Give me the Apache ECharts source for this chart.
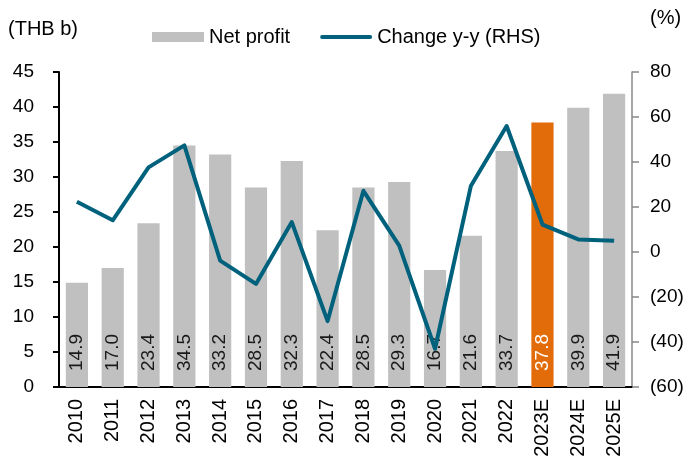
<!DOCTYPE html>
<html>
<head>
<meta charset="utf-8">
<script src="https://cdn.jsdelivr.net/npm/echarts@6/dist/echarts.min.js"></script>
<style>
  html, body { margin: 0; padding: 0; background: #fff; }
  #container { width: 688px; height: 464px; }
</style>
</head>
<body>
<div id="container"></div>
<script>
var years = ['2010', '2011', '2012', '2013', '2014', '2015', '2016', '2017',
  '2018', '2019', '2020', '2021', '2022', '2023E', '2024E', '2025E'];
var netProfit = [14.9, 17.0, 23.4, 34.5, 33.2, 28.5, 32.3, 22.4,
  28.5, 29.3, 16.7, 21.6, 33.7, 37.8, 39.9, 41.9];
var changeYY = [22.3, 14.1, 37.6, 47.4, -3.8, -14.2, 13.3, -30.7,
  27.2, 2.8, -43.0, 29.3, 56.0, 12.2, 5.6, 5.0];
var highlightYear = '2023E';

var font = 'Liberation Sans, Arial, sans-serif';

var barData = netProfit.map(function (v, i) {
  var hot = years[i] === highlightYear;
  return {
    value: v,
    itemStyle: { color: hot ? '#E36C0A' : '#C0C0C0' },
    label: { color: hot ? '#ffffff' : '#1a1a1a' }
  };
});

var chart = echarts.init(document.getElementById('container'));
chart.setOption({
  animation: false,
  textStyle: { fontFamily: font },
  grid: { left: 59, right: 56, top: 72, bottom: 77 },
  legend: {
    top: 22,
    left: 147,
    itemWidth: 52,
    itemHeight: 10,
    itemGap: 30,
    textStyle: { fontSize: 20, color: '#000', fontFamily: font },
    data: [
      { name: 'Net profit', icon: 'rect' },
      { name: 'Change y-y (RHS)', icon: 'path://M2,0 L50,0 A2,2 0 0 1 50,4 L2,4 A2,2 0 0 1 2,0 Z' }
    ]
  },
  graphic: [
    { type: 'text', left: 8, top: 19, style: { text: '(THB b)', fontSize: 20, fill: '#000', fontFamily: font } },
    { type: 'text', left: 650, top: 8, style: { text: '(%)', fontSize: 20, fill: '#000', fontFamily: font } }
  ],
  xAxis: {
    type: 'category',
    data: years,
    axisLine: { lineStyle: { color: '#000', width: 2 } },
    axisTick: { length: 6, lineStyle: { color: '#000', width: 2 } },
    axisLabel: { rotate: 90, fontSize: 20, color: '#000', margin: 12, interval: 0, fontFamily: font }
  },
  yAxis: [
    {
      type: 'value', min: 0, max: 45, interval: 5,
      splitLine: { show: false },
      axisLine: { show: true, lineStyle: { color: '#000', width: 2 } },
      axisTick: { show: true, length: 6, lineStyle: { color: '#000', width: 2 } },
      axisLabel: { fontSize: 19, color: '#000', margin: 25, fontFamily: font }
    },
    {
      type: 'value', min: -60, max: 80, interval: 20,
      splitLine: { show: false },
      axisLine: { show: true, lineStyle: { color: '#888', width: 1.5 } },
      axisTick: { show: true, length: 7, lineStyle: { color: '#888', width: 1.5 } },
      axisLabel: {
        fontSize: 19, color: '#000', margin: 18, fontFamily: font,
        formatter: function (v) { return v < 0 ? '(' + Math.abs(v) + ')' : String(v); }
      }
    }
  ],
  series: [
    {
      name: 'Net profit',
      type: 'bar',
      barWidth: '62%',
      itemStyle: { color: '#C0C0C0' },
      data: barData,
      label: {
        show: true,
        position: 'insideBottom',
        rotate: 90,
        align: 'left',
        verticalAlign: 'middle',
        distance: 16,
        fontSize: 19,
        fontFamily: font,
        formatter: function (p) { return p.value.toFixed(1); }
      },
      z: 2
    },
    {
      name: 'Change y-y (RHS)',
      type: 'line',
      yAxisIndex: 1,
      data: changeYY,
      symbol: 'none',
      lineStyle: { color: '#00617D', width: 4, join: 'round' },
      itemStyle: { color: '#00617D' },
      z: 3
    }
  ]
});
</script>
</body>
</html>
